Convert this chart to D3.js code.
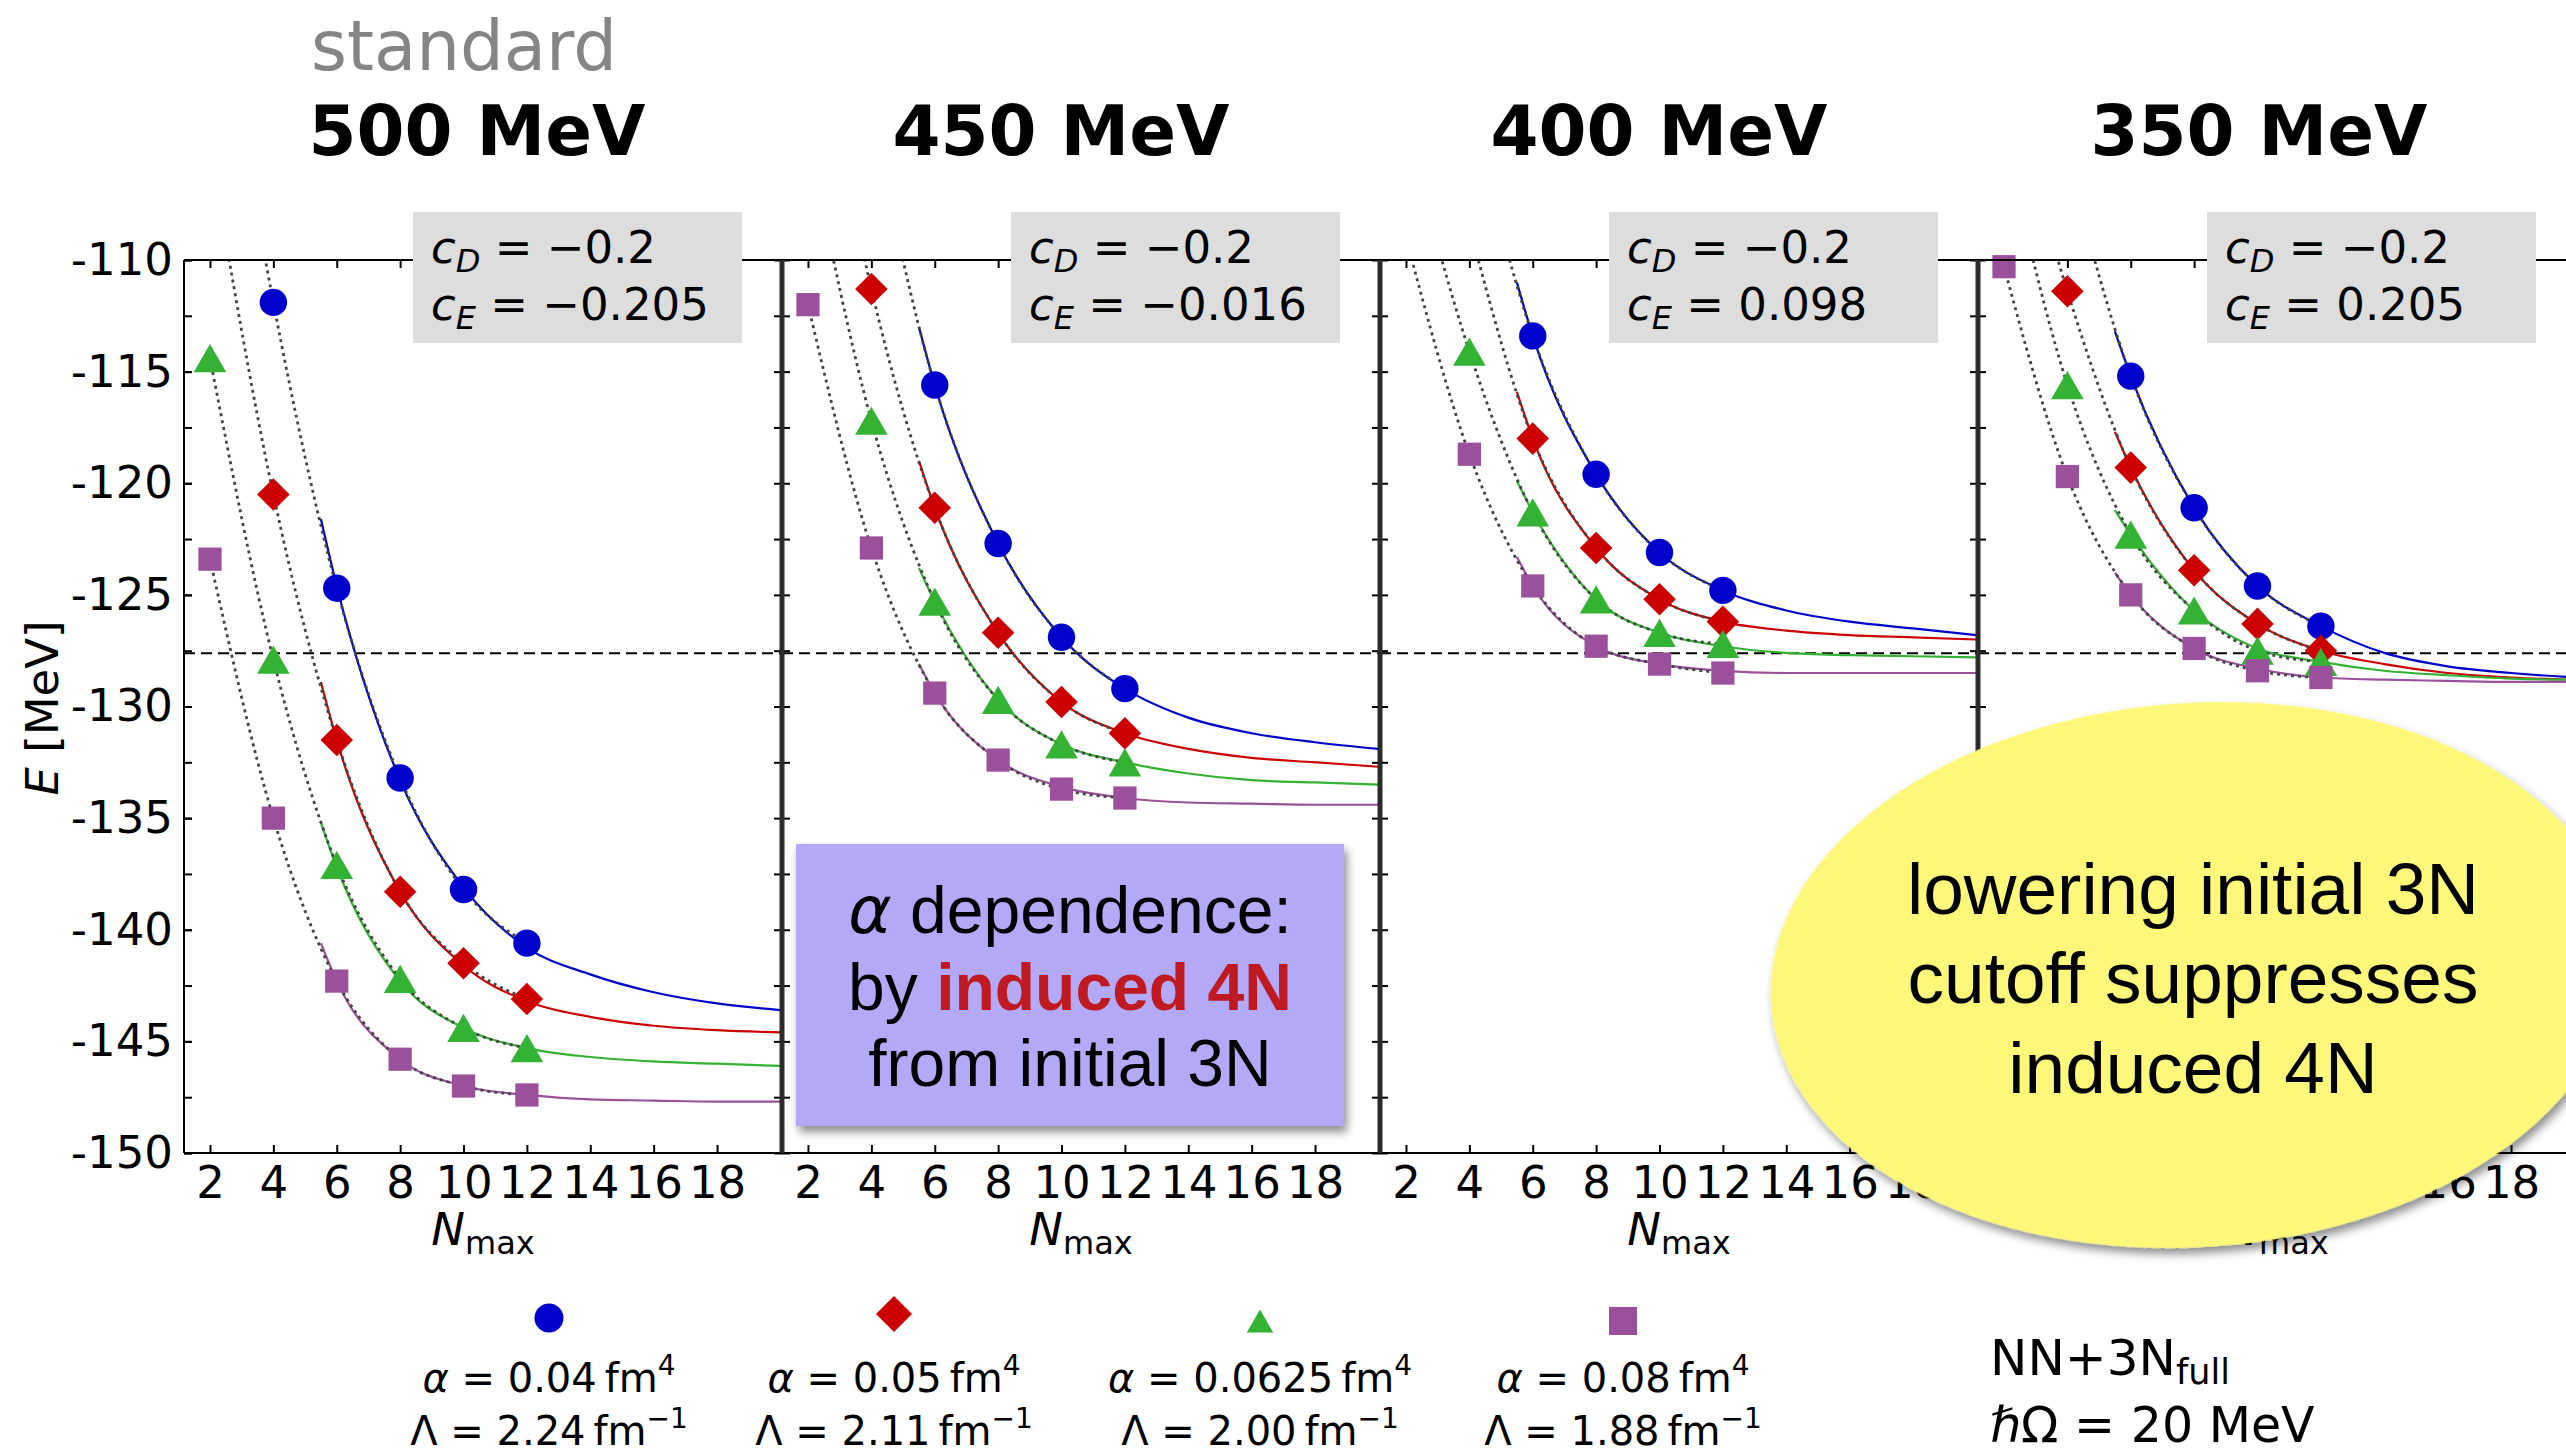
<!DOCTYPE html>
<html>
<head>
<meta charset="utf-8">
<script src="https://cdn.jsdelivr.net/npm/d3@7"></script>
<style>
body { margin: 0; background: #fff; }
svg { display: block; }
text { font-family: "DejaVu Sans", sans-serif; }
.note { font-family: "Liberation Sans", Arial, sans-serif; }
</style>
</head>
<body>
<svg id="chart"></svg>
<script>
// ---- values ----
var nmax = [2, 4, 6, 8, 10, 12];
var fitN = [5.5, 6, 8, 10, 12, 14, 16, 18, 20];
var xTicks = [2, 4, 6, 8, 10, 12, 14, 16, 18];
var yTicks = [-110, -115, -120, -125, -130, -135, -140, -145, -150];
var yMinorTicks = [-110, -112.5, -115, -117.5, -120, -122.5, -125, -127.5, -130, -132.5,
    -135, -137.5, -140, -142.5, -145, -147.5, -150];
var cutoffs = ["500 MeV", "450 MeV", "400 MeV", "350 MeV"];
var cDValues = ["\u22120.2", "\u22120.2", "\u22120.2", "\u22120.2"];
var cEValues = ["\u22120.205", "\u22120.016", "0.098", "0.205"];
var alphaLabels = ["0.04", "0.05", "0.0625", "0.08"];
var lambdaLabels = ["2.24", "2.11", "2.00", "1.88"];
var expEnergy = -127.62;

// energies at nmax (null = not computed, values above -110 lie off the plot)
var blue500 = [-95, -111.9, -124.7, -133.2, -138.2, -140.6];
var red500 = [-105, -120.5, -131.5, -138.3, -141.5, -143.1];
var green500 = [-114.4, -127.9, -137.1, -142.2, -144.4, -145.3];
var purple500 = [-123.4, -135.0, -142.3, -145.8, -147.0, -147.4];

var blue450 = [null, -103.5, -115.6, -122.7, -126.9, -129.2];
var red450 = [-97, -111.3, -121.1, -126.7, -129.8, -131.2];
var green450 = [-104.5, -117.2, -125.3, -129.7, -131.7, -132.5];
var purple450 = [-112.0, -122.9, -129.4, -132.4, -133.7, -134.1];

var blue400 = [null, -103, -113.4, -119.6, -123.1, -124.8];
var red400 = [null, -108.5, -118.0, -122.9, -125.2, -126.2];
var green400 = [-104, -114.1, -121.3, -125.2, -126.7, -127.2];
var purple400 = [-109, -118.7, -124.6, -127.3, -128.1, -128.5];

var blue350 = [null, -105.5, -115.2, -121.1, -124.6, -126.4];
var red350 = [-101, -111.4, -119.3, -123.9, -126.3, -127.5];
var green350 = [-104.5, -115.6, -122.3, -125.7, -127.5, -128.0];
var purple350 = [-110.3, -119.7, -125.0, -127.4, -128.4, -128.7];

// fitted extrapolation curves, sampled at fitN
var blueFit500 = [-121.6, -124.6, -133.3, -138.1, -140.8, -142.0, -142.8, -143.3, -143.6];
var redFit500 = [-128.9, -131.5, -138.3, -141.6, -143.2, -143.9, -144.3, -144.5, -144.6];
var greenFit500 = [-135.2, -137.2, -142.3, -144.4, -145.3, -145.7, -145.9, -146.0, -146.1];
var purpleFit500 = [-140.6, -142.3, -145.8, -147.0, -147.4, -147.6, -147.65, -147.7, -147.7];

var blueFit450 = [-113.0, -115.6, -122.7, -126.9, -129.2, -130.5, -131.2, -131.6, -131.9];
var redFit450 = [-119.0, -121.1, -126.7, -129.8, -131.2, -131.9, -132.3, -132.5, -132.7];
var greenFit450 = [-123.8, -125.3, -129.7, -131.7, -132.5, -133.0, -133.3, -133.4, -133.5];
var purpleFit450 = [-128.1, -129.4, -132.4, -133.6, -134.1, -134.3, -134.35, -134.4, -134.4];

var blueFit400 = [-111.0, -113.4, -119.6, -123.1, -124.8, -125.7, -126.2, -126.5, -126.8];
var redFit400 = [-115.9, -118.0, -122.9, -125.2, -126.2, -126.6, -126.8, -126.9, -127.0];
var greenFit400 = [-119.9, -121.3, -125.2, -126.7, -127.3, -127.6, -127.7, -127.75, -127.8];
var purpleFit400 = [-123.3, -124.6, -127.3, -128.1, -128.4, -128.5, -128.5, -128.5, -128.5];

var blueFit350 = [-113.2, -115.2, -121.1, -124.6, -126.4, -127.6, -128.2, -128.5, -128.7];
var redFit350 = [-117.7, -119.3, -123.9, -126.3, -127.5, -128.1, -128.5, -128.7, -128.8];
var greenFit350 = [-121.2, -122.3, -125.7, -127.4, -128.0, -128.4, -128.6, -128.75, -128.8];
var purpleFit350 = [-124.0, -125.0, -127.4, -128.3, -128.7, -128.8, -128.85, -128.9, -128.9];

var panels = [
    { points: [blue500, red500, green500, purple500], fits: [blueFit500, redFit500, greenFit500, purpleFit500] },
    { points: [blue450, red450, green450, purple450], fits: [blueFit450, redFit450, greenFit450, purpleFit450] },
    { points: [blue400, red400, green400, purple400], fits: [blueFit400, redFit400, greenFit400, purpleFit400] },
    { points: [blue350, red350, green350, purple350], fits: [blueFit350, redFit350, greenFit350, purpleFit350] }
];

// ---- layout ----
var screen = { width: 2566, height: 1455 }
var plot = { left: 184, top: 260, width: 598, height: 893 }
var colors = ["#0000cc", "#cc0000", "#33b233", "#9b509b"];

// matplotlib-like markers, centred on their bounding box
var mplTriangle = {
    draw: function (ctx, size) {
        var w = Math.sqrt(size * 4 / Math.sqrt(3)), h = w * 0.866;
        ctx.moveTo(0, -h / 2); ctx.lineTo(w / 2, h / 2); ctx.lineTo(-w / 2, h / 2); ctx.closePath();
    }
}
var mplDiamond = {
    draw: function (ctx, size) {
        var r = Math.sqrt(size / 2);
        ctx.moveTo(0, -r); ctx.lineTo(r, 0); ctx.lineTo(0, r); ctx.lineTo(-r, 0); ctx.closePath();
    }
}
var symbolTypes = [d3.symbolCircle, mplDiamond, mplTriangle, d3.symbolSquare];
var plotSizes = [590, 530, 460, 540];
var legendSizes = [660, 648, 300, 784];

var svg = d3.select("#chart")
    .attr("width", screen.width)
    .attr("height", screen.height)

var defs = svg.append("defs")
defs.append("filter").attr("id", "shadow")
    .attr("x", "-10%").attr("y", "-10%").attr("width", "130%").attr("height", "130%")
    .append("feDropShadow")
    .attr("dx", 3).attr("dy", 6).attr("stdDeviation", 5)
    .attr("flood-color", "#000").attr("flood-opacity", 0.45)

var y = d3.scaleLinear().domain([-110, -150]).range([plot.top, plot.top + plot.height])

panels.forEach(function (panel, i) {
    var left = plot.left + i * plot.width
    var x = d3.scaleLinear().domain([1.18, 20.05]).range([left, left + plot.width])
    var g = svg.append("g")

    defs.append("clipPath").attr("id", "clip" + i)
        .append("rect")
        .attr("x", left).attr("y", plot.top)
        .attr("width", plot.width).attr("height", plot.height)

    // ticks (inward, all four sides)
    var tickGroups = [
        { axis: d3.axisBottom(x).tickValues(xTicks).tickFormat(""), tr: [0, plot.top] },
        { axis: d3.axisBottom(x).tickValues(xTicks).tickPadding(13), tr: [0, plot.top + plot.height], neg: true },
        { axis: d3.axisRight(y).tickValues(yMinorTicks).tickFormat(""), tr: [left, 0] },
        { axis: d3.axisLeft(y).tickValues(yMinorTicks).tickFormat(""), tr: [left + plot.width, 0] }
    ]
    tickGroups.forEach(function (t) {
        t.axis.tickSizeOuter(0).tickSizeInner(t.neg ? -8 : 8)
        var a = g.append("g")
            .attr("transform", "translate(" + t.tr[0] + "," + t.tr[1] + ")")
            .call(t.axis)
        a.select(".domain").remove()
        a.selectAll("line").attr("stroke", "#000").attr("stroke-width", 2)
        a.selectAll("text").attr("font-size", 45).attr("font-family", "DejaVu Sans").attr("fill", "#000")
    })

    if (i === 0) {
        var ya = g.append("g")
            .attr("transform", "translate(" + left + ",0)")
            .call(d3.axisLeft(y).tickValues(yTicks).tickSizeInner(-8).tickSizeOuter(0).tickPadding(11)
                .tickFormat(function (d) { return String(d).replace("\u2212", "-") }))
        ya.select(".domain").remove()
        ya.selectAll("line").attr("stroke", "#000").attr("stroke-width", 2)
        ya.selectAll("text").attr("font-size", 45).attr("font-family", "DejaVu Sans").attr("fill", "#000")
    }

    var clipped = g.append("g").attr("clip-path", "url(#clip" + i + ")")

    // experimental value
    clipped.append("line")
        .attr("x1", left).attr("x2", left + plot.width)
        .attr("y1", y(expEnergy)).attr("y2", y(expEnergy))
        .attr("stroke", "#000").attr("stroke-width", 2).attr("stroke-dasharray", "11,6")

    var smooth = d3.line()
        .x(function (d) { return x(d[0]) })
        .y(function (d) { return y(d[1]) })
        .curve(d3.curveMonotoneX)

    panel.fits.forEach(function (vals, s) {
        clipped.append("path")
            .attr("d", smooth(fitN.map(function (n, k) { return [n, vals[k]] })))
            .attr("fill", "none").attr("stroke", colors[s]).attr("stroke-width", 2.2)
    })

    panel.points.forEach(function (vals) {
        var pts = nmax.map(function (n, k) { return [n, vals[k]] }).filter(function (d) { return d[1] !== null })
        clipped.append("path")
            .attr("d", smooth(pts))
            .attr("fill", "none").attr("stroke", "#444").attr("stroke-width", 2.8)
            .attr("stroke-dasharray", "3,4")
    })

    panel.points.forEach(function (vals, s) {
        var sym = d3.symbol().type(symbolTypes[s]).size(plotSizes[s])
        var pts = nmax.map(function (n, k) { return [n, vals[k]] })
            .filter(function (d) { return d[1] !== null && d[1] <= -110 })
        g.selectAll(null).data(pts).enter()
            .append("path")
            .attr("d", sym)
            .attr("transform", function (d) { return "translate(" + x(d[0]) + "," + y(d[1]) + ")" })
            .attr("fill", colors[s])
    })

    // panel title
    var titleDx = [293, 279, 279, 281][i]
    svg.append("text")
        .text(cutoffs[i])
        .attr("x", left + titleDx).attr("y", 155)
        .attr("text-anchor", "middle")
        .attr("font-size", 69).attr("font-weight", "bold")

    // x label
    var xl = svg.append("text")
        .attr("x", left + plot.width / 2).attr("y", 1245)
        .attr("text-anchor", "middle").attr("font-size", 45)
    xl.append("tspan").text("N").attr("font-style", "italic")
    xl.append("tspan").text("max").attr("font-size", 32).attr("dy", 9)
})

// spines
var spines = svg.append("g")
var right = plot.left + 4 * plot.width
spines.append("line").attr("x1", plot.left).attr("x2", right)
    .attr("y1", plot.top).attr("y2", plot.top).attr("stroke", "#000").attr("stroke-width", 2)
spines.append("line").attr("x1", plot.left).attr("x2", right)
    .attr("y1", plot.top + plot.height).attr("y2", plot.top + plot.height).attr("stroke", "#000").attr("stroke-width", 2)
spines.append("line").attr("x1", plot.left).attr("x2", plot.left)
    .attr("y1", plot.top).attr("y2", plot.top + plot.height).attr("stroke", "#000").attr("stroke-width", 2)
for (var k = 1; k < 4; k++) {
    spines.append("line")
        .attr("x1", plot.left + k * plot.width).attr("x2", plot.left + k * plot.width)
        .attr("y1", plot.top).attr("y2", plot.top + plot.height)
        .attr("stroke", "#2b2b2b").attr("stroke-width", 5)
}

// cD / cE boxes
panels.forEach(function (panel, i) {
    var bx = plot.left + i * plot.width + 229
    svg.append("rect").attr("x", bx).attr("y", 212).attr("width", 329).attr("height", 131)
        .attr("fill", "#dddddd")
    var lines = [["D", cDValues[i], 263], ["E", cEValues[i], 320]]
    lines.forEach(function (l) {
        var t = svg.append("text").attr("x", bx + 18).attr("y", l[2]).attr("font-size", 45)
        t.append("tspan").text("c").attr("font-style", "italic")
        t.append("tspan").text(l[0]).attr("font-style", "italic").attr("font-size", 32).attr("dy", 9)
        t.append("tspan").text(" = " + l[1]).attr("dy", -9)
    })
})

// headings
svg.append("text").text("standard")
    .attr("x", 311).attr("y", 70).attr("font-size", 69).attr("fill", "#858585")

// y label
var yl = svg.append("text")
    .attr("transform", "translate(58,708) rotate(-90)")
    .attr("text-anchor", "middle").attr("font-size", 45)
yl.append("tspan").text("E").attr("font-style", "italic")
yl.append("tspan").text("  [MeV]")

// legend
var legendX = [549, 894, 1260, 1623]
var legendY = [1318, 1314, 1321, 1321]
colors.forEach(function (c, s) {
    svg.append("path")
        .attr("d", d3.symbol().type(symbolTypes[s]).size(legendSizes[s]))
        .attr("transform", "translate(" + legendX[s] + "," + legendY[s] + ")")
        .attr("fill", c)
    var t1 = svg.append("text").attr("x", legendX[s]).attr("y", 1392)
        .attr("text-anchor", "middle").attr("font-size", 40)
    t1.append("tspan").text("\u03b1").attr("font-style", "italic")
    t1.append("tspan").text(" = " + alphaLabels[s] + "\u2009fm")
    t1.append("tspan").text("4").attr("font-size", 28).attr("dy", -17)
    var t2 = svg.append("text").attr("x", legendX[s]).attr("y", 1445)
        .attr("text-anchor", "middle").attr("font-size", 40)
    t2.append("tspan").text("\u039b = " + lambdaLabels[s] + "\u2009fm")
    t2.append("tspan").text("\u22121").attr("font-size", 28).attr("dy", -17)
})

// interaction info
var info1 = svg.append("text").attr("x", 1990).attr("y", 1375).attr("font-size", 50)
info1.append("tspan").text("NN+3N")
info1.append("tspan").text("full").attr("font-size", 35).attr("dy", 9)
var info2 = svg.append("text").attr("x", 1990).attr("y", 1442).attr("font-size", 49)
info2.append("tspan").text("\u210f").attr("font-style", "italic")
info2.append("tspan").text("\u03a9 = 20 MeV")

// purple annotation
svg.append("rect").attr("x", 796).attr("y", 844).attr("width", 548).attr("height", 282)
    .attr("fill", "#b4a9f7").attr("filter", "url(#shadow)")
var p1 = svg.append("text").attr("class", "note").attr("x", 1070).attr("y", 933)
    .attr("text-anchor", "middle").attr("font-size", 66)
p1.append("tspan").text("\u03b1").attr("font-style", "italic").attr("font-family", "DejaVu Sans")
p1.append("tspan").text(" dependence:")
var p2 = svg.append("text").attr("class", "note").attr("x", 1070).attr("y", 1010)
    .attr("text-anchor", "middle").attr("font-size", 66)
p2.append("tspan").text("by ")
p2.append("tspan").text("induced 4N").attr("font-weight", "bold").attr("fill", "#bf1a22")
svg.append("text").attr("class", "note").attr("x", 1070).attr("y", 1086)
    .attr("text-anchor", "middle").attr("font-size", 66).text("from initial 3N")

// yellow annotation
svg.append("ellipse")
    .attr("cx", 2195).attr("cy", 975).attr("rx", 425).attr("ry", 272)
    .attr("transform", "rotate(-4,2195,975)")
    .attr("fill", "#fdf87a").attr("filter", "url(#shadow)")
var bubble = ["lowering initial 3N", "cutoff suppresses", "induced 4N"]
var bubbleY = [914, 1003, 1093]
bubble.forEach(function (line, k) {
    svg.append("text").attr("class", "note").text(line)
        .attr("x", 2193).attr("y", bubbleY[k])
        .attr("text-anchor", "middle").attr("font-size", 73)
})
</script>
</body>
</html>
